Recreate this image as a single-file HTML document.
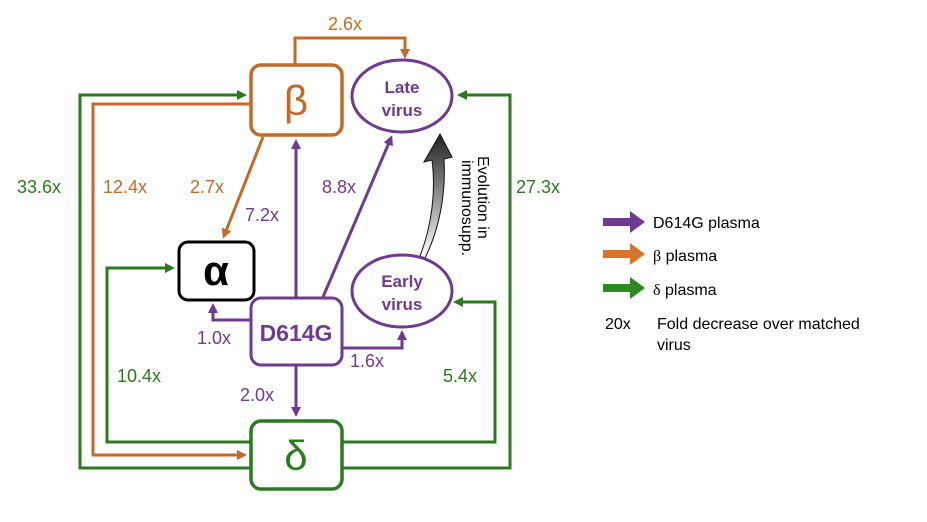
<!DOCTYPE html>
<html><head><meta charset="utf-8"><style>
html,body{margin:0;padding:0;background:#fff}
svg{display:block}
text{font-family:"Liberation Sans",sans-serif}
</style></head><body>
<svg width="927" height="522" viewBox="0 0 927 522" xmlns="http://www.w3.org/2000/svg">
<defs>
<marker id="ag" markerWidth="10" markerHeight="10" refX="7" refY="5" orient="auto" markerUnits="userSpaceOnUse"><path d="M0,0 L10,5 L0,10 z" fill="#2b7a1f"/></marker>
<marker id="ao" markerWidth="10" markerHeight="10" refX="7" refY="5" orient="auto" markerUnits="userSpaceOnUse"><path d="M0,0 L10,5 L0,10 z" fill="#c46a28"/></marker>
<marker id="ap" markerWidth="10" markerHeight="10" refX="7" refY="5" orient="auto" markerUnits="userSpaceOnUse"><path d="M0,0 L10,5 L0,10 z" fill="#6f3a91"/></marker>
<linearGradient id="gr" x1="0" y1="1" x2="0" y2="0"><stop offset="0" stop-color="#fff"/><stop offset="1" stop-color="#222"/></linearGradient>
</defs>
<g fill="none" stroke-width="3">
<polyline points="250,468 80,468 80,95 244,95" stroke="#2b7a1f" marker-end="url(#ag)"/>
<polyline points="342,468 510,468 510,95 460,95" stroke="#2b7a1f" marker-end="url(#ag)"/>
<polyline points="250,442 107,442 107,268 172,268" stroke="#2b7a1f" marker-end="url(#ag)"/>
<polyline points="342,442 495,442 495,302 456,302" stroke="#2b7a1f" marker-end="url(#ag)"/>
<polyline points="250,104 93,104 93,455 244,455" stroke="#c46a28" marker-end="url(#ao)"/>
<polyline points="295,64 295,38 405,38 405,56" stroke="#c46a28" marker-end="url(#ao)"/>
<line x1="263" y1="137" x2="224" y2="236" stroke="#c46a28" marker-end="url(#ao)"/>
<line x1="296" y1="297" x2="296" y2="142" stroke="#6f3a91" marker-end="url(#ap)"/>
<line x1="323" y1="297" x2="391" y2="138" stroke="#6f3a91" marker-end="url(#ap)"/>
<polyline points="250,320 213,320 213,306" stroke="#6f3a91" marker-end="url(#ap)"/>
<polyline points="342,348 402,348 402,333" stroke="#6f3a91" marker-end="url(#ap)"/>
<line x1="296" y1="366" x2="296" y2="414" stroke="#6f3a91" marker-end="url(#ap)"/>
</g>
<path d="M420,256 C432,225 436,190 432,160 L424,162 L440,134 L452,157 L444,159 C446,192 440,228 425,258 Z" fill="url(#gr)" stroke="#111" stroke-width="1"/>
<rect x="251" y="65" width="91" height="70" rx="10" fill="#fff" stroke="#c46a28" stroke-width="3.5"/>
<text x="296" y="115" font-size="42" fill="#c46a28" text-anchor="middle" font-family="Liberation Serif,serif">β</text>
<ellipse cx="402" cy="96" rx="50" ry="36" fill="#fff" stroke="#6f3a91" stroke-width="3"/>
<text x="402" y="93" font-size="17" font-weight="bold" fill="#6f3a91" text-anchor="middle">Late</text>
<text x="402" y="116" font-size="17" font-weight="bold" fill="#6f3a91" text-anchor="middle">virus</text>
<rect x="179" y="242" width="75" height="58" rx="9" fill="#fff" stroke="#000" stroke-width="3"/>
<text x="216" y="285" font-size="42" font-weight="bold" fill="#000" text-anchor="middle" font-family="Liberation Serif,serif">α</text>
<rect x="251" y="298" width="91" height="67" rx="10" fill="#fff" stroke="#6f3a91" stroke-width="3"/>
<text x="296" y="341" font-size="23" font-weight="bold" fill="#6f3a91" text-anchor="middle">D614G</text>
<ellipse cx="402" cy="291" rx="50" ry="36" fill="#fff" stroke="#6f3a91" stroke-width="3"/>
<text x="402" y="287" font-size="17" font-weight="bold" fill="#6f3a91" text-anchor="middle">Early</text>
<text x="402" y="310" font-size="17" font-weight="bold" fill="#6f3a91" text-anchor="middle">virus</text>
<rect x="251" y="421" width="91" height="68" rx="10" fill="#fff" stroke="#2b7a1f" stroke-width="3.5"/>
<text x="296" y="470" font-size="42" fill="#2b7a1f" text-anchor="middle" font-family="Liberation Serif,serif">δ</text>
<g font-size="18">
<text x="328" y="30" fill="#c46a28">2.6x</text>
<text x="17" y="193" fill="#2b7a1f">33.6x</text>
<text x="103" y="193" fill="#c46a28">12.4x</text>
<text x="190" y="193" fill="#c46a28">2.7x</text>
<text x="245" y="221" fill="#6f3a91">7.2x</text>
<text x="322" y="193" fill="#6f3a91">8.8x</text>
<text x="516" y="193" fill="#2b7a1f">27.3x</text>
<text x="197" y="344" fill="#6f3a91">1.0x</text>
<text x="350" y="367" fill="#6f3a91">1.6x</text>
<text x="117" y="382" fill="#2b7a1f">10.4x</text>
<text x="443" y="382" fill="#2b7a1f">5.4x</text>
<text x="240" y="401" fill="#6f3a91">2.0x</text>
</g>
<text transform="translate(478,156) rotate(90)" font-size="16" fill="#000">Evolution in</text>
<text transform="translate(462,160) rotate(90)" font-size="16" fill="#000">immunosupp.</text>
<g>
<rect x="603" y="218" width="30" height="8" fill="#6f3a91"/><path d="M630,211 L645,222 L630,233 Z" fill="#6f3a91"/>
<rect x="603" y="250" width="30" height="8" fill="#d8732a"/><path d="M630,243 L645,254 L630,265 Z" fill="#d8732a"/>
<rect x="603" y="284" width="30" height="8" fill="#2b8a1f"/><path d="M630,277 L645,288 L630,299 Z" fill="#2b8a1f"/>
</g>
<g font-size="16" fill="#000">
<text x="653" y="228">D614G plasma</text>
<text x="653" y="261"><tspan font-family="Liberation Serif,serif">β</tspan> plasma</text>
<text x="653" y="295"><tspan font-family="Liberation Serif,serif">δ</tspan> plasma</text>
<text x="605" y="329">20x</text>
<text x="657" y="329">Fold decrease over matched</text>
<text x="657" y="350">virus</text>
</g>
</svg>
</body></html>
